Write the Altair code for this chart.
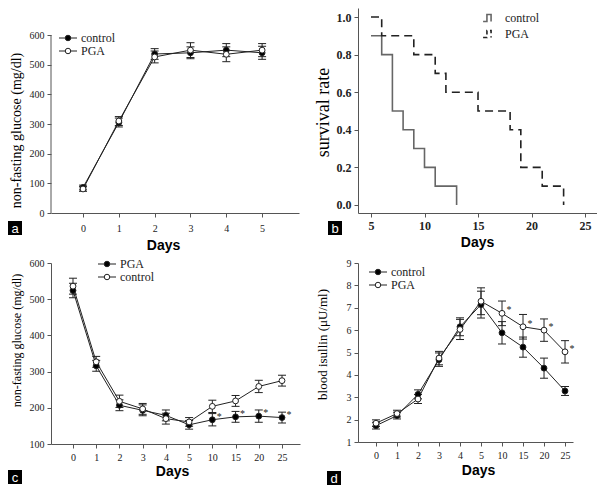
import altair as alt
import pandas as pd

SERIF = "Liberation Serif"
SANS = "Liberation Sans"
INK = "#222222"
AXC = "#555555"

# ---------------- data ----------------
# panel a: glucose after STZ
a_days = [0, 1, 2, 3, 4, 5]
a_control = [86, 305, 536, 540, 549, 540]
a_control_err = [8, 15, 18, 20, 22, 22]
a_pga = [81, 310, 526, 549, 535, 549]
a_pga_err = [8, 15, 20, 25, 25, 22]
a_yticks = [0, 100, 200, 300, 400, 500, 600]

# panel b: survival (Kaplan-Meier steps)
b_control_days = [5, 6, 7, 8, 9, 10, 11, 13]
b_control_surv = [0.9, 0.8, 0.5, 0.4, 0.3, 0.2, 0.1, 0.0]
b_pga_days = [5, 6, 9, 11, 12, 15, 18, 19, 21, 23]
b_pga_surv = [1.0, 0.9, 0.8, 0.7, 0.6, 0.5, 0.4, 0.2, 0.1, 0.0]
b_xticks = [5, 10, 15, 20, 25]
b_yticks = [0, 0.2, 0.4, 0.6, 0.8, 1.0]

# panels c and d share day categories
cd_days = ["0", "1", "2", "3", "4", "5", "10", "15", "20", "25"]
cd_sig = [False, False, False, False, False, False, True, True, True, True]

c_pga = [524, 316, 207, 193, 179, 153, 167, 175, 177, 173]
c_pga_err = [20, 15, 15, 15, 15, 12, 17, 15, 17, 15]
c_control = [536, 327, 218, 197, 170, 161, 204, 219, 259, 275]
c_control_err = [22, 15, 17, 15, 15, 12, 17, 15, 17, 15]
c_yticks = [100, 200, 300, 400, 500, 600]

d_control = [1.73, 2.18, 3.13, 4.68, 6.15, 7.14, 5.88, 5.24, 4.30, 3.28]
d_control_err = [0.15, 0.15, 0.2, 0.3, 0.4, 0.6, 0.5, 0.45, 0.45, 0.2]
d_pga = [1.84, 2.27, 2.92, 4.75, 6.03, 7.29, 6.75, 6.15, 6.0, 5.03]
d_pga_err = [0.15, 0.15, 0.2, 0.3, 0.45, 0.6, 0.55, 0.55, 0.5, 0.5]
d_yticks = [1, 2, 3, 4, 5, 6, 7, 8, 9]


def make_df(xs, series):
    # first series is drawn with filled markers, second with open markers
    rows = []
    for k, (name, vals, errs, sigs) in enumerate(series):
        fc = "black" if k == 0 else "white"
        for x, v, e, s in zip(xs, vals, errs, sigs):
            rows.append(dict(x=x, y=v, lo=v - e, hi=v + e, group=name, sig=s, fc=fc))
    return pd.DataFrame(rows)


def one():
    return alt.Chart(pd.DataFrame({"k": [0]}))


def panel_label(letter, x, y):
    box = one().mark_rect(color="black").encode(
        x=alt.value(x), x2=alt.value(x + 14), y=alt.value(y), y2=alt.value(y + 14))
    txt = one().mark_text(text=letter, color="white", font=SANS, fontSize=13,
                          align="center", baseline="middle").encode(
        x=alt.value(x + 7), y=alt.value(y + 7.5))
    return [box, txt]


def line_legend(names, x0, y0, step):
    layers = []
    for i, name in enumerate(names):
        y = y0 + i * step
        fill = "black" if i == 0 else "white"
        layers.append(one().mark_rule(color=INK, strokeWidth=1).encode(
            x=alt.value(x0), x2=alt.value(x0 + 18), y=alt.value(y)))
        layers.append(one().mark_point(filled=True, fill=fill, stroke=INK, strokeWidth=1,
                                       size=30, opacity=1).encode(
            x=alt.value(x0 + 9), y=alt.value(y)))
        layers.append(one().mark_text(text=name, font=SERIF, fontSize=12, color=INK,
                                      align="left", baseline="middle").encode(
            x=alt.value(x0 + 22), y=alt.value(y)))
    return layers


def xaxis_days(values, label_expr, title_x, title_pad, label_size=10, label_pad=4,
               weight="normal"):
    kw = dict(values=values, title="Days", titleFont=SANS, titleFontWeight="bold",
              titleFontSize=14, titleColor="black", titleX=title_x, titlePadding=title_pad,
              labelFont=SERIF, labelFontSize=label_size, labelPadding=label_pad,
              labelFontWeight=weight,
              labelColor=INK, tickSize=4, domainColor=AXC, tickColor=AXC, grid=False,
              labelFlush=False, labelOverlap=False)
    if label_expr:
        kw["labelExpr"] = label_expr
    return alt.Axis(**kw)


def yaxis_title(title, values, size, tx, ty, label_size=10, fmt=None, domain=True,
                weight="normal"):
    kw = dict(values=values, title=title, titleFont=SERIF, titleFontWeight="normal",
              titleFontSize=size, titleColor="black", titleX=tx, titleY=ty,
              titleAngle=270, titleAlign="center", titleBaseline="middle",
              labelFont=SERIF, labelFontSize=label_size, labelColor=INK, labelPadding=3,
              labelFontWeight=weight,
              tickSize=4, domain=domain, domainColor=AXC, tickColor=AXC, grid=False,
              labelOverlap=False)
    if fmt:
        kw["format"] = fmt
    return alt.Axis(**kw)


def series_panel(df, order, xdom, ydom, xaxis, yaxis, w, h, legend_xy, label_xy, letter,
                 yline=None):
    xs = alt.Scale(domain=xdom, nice=False, zero=False)
    ys = alt.Scale(domain=ydom, nice=False, zero=False)
    base = alt.Chart(df)

    def X(f="x"):
        return alt.X(f + ":Q", scale=xs, axis=xaxis)

    def Y(f="y"):
        return alt.Y(f + ":Q", scale=ys, axis=yaxis)

    layers = []
    if yline is not None:
        layers.append(one().mark_rule(color=AXC, strokeWidth=1).encode(
            x=alt.value(0), y=alt.Y(datum=yline[0], scale=ys, axis=yaxis),
            y2=alt.Y2(datum=yline[1])))
    line = base.mark_line(color=INK, strokeWidth=1).encode(x=X(), y=Y(), detail="group:N")
    err = base.mark_rule(color=INK, strokeWidth=1).encode(x=X(), y=Y("lo"), y2=alt.Y2("hi"))
    caplo = base.mark_rule(color=INK, strokeWidth=1, xOffset=-4, x2Offset=4).encode(
        x=X(), x2=alt.X2("x"), y=Y("lo"))
    caphi = base.mark_rule(color=INK, strokeWidth=1, xOffset=-4, x2Offset=4).encode(
        x=X(), x2=alt.X2("x"), y=Y("hi"))
    pts = base.mark_point(filled=True, size=34, stroke=INK, strokeWidth=1, opacity=1).encode(
        x=X(), y=Y(), fill=alt.Fill("fc:N", scale=None, legend=None))
    star = base.transform_filter("datum.sig").mark_text(
        text="*", dx=7, dy=-3, fontSize=10, font=SERIF, color=INK).encode(x=X(), y=Y())
    layers += [line, err, caplo, caphi, pts, star]
    layers += line_legend(order, legend_xy[0], legend_xy[1], 13)
    layers += panel_label(letter, label_xy[0], label_xy[1])
    return alt.layer(*layers).properties(width=w, height=h)


# ---------------- panel a ----------------
# plot area is extended upward so that its top lines up with panel b;
# the y axis line is drawn only over 0..600 like the reference.
A_H = 205
a_top = 600 * A_H / 178.0
df_a = make_df(a_days, [("control", a_control, a_control_err, [False] * 6),
                        ("PGA", a_pga, a_pga_err, [False] * 6)])
chart_a = series_panel(
    df_a, ["control", "PGA"], [-0.894, 6.03], [0, a_top],
    xaxis_days(a_days, None, 112, 5, label_pad=6),
    yaxis_title("non-fasting glucose (mg/dl)", a_yticks, 14, -35, 122, domain=False),
    248, A_H, (8, 30), (-43, 213), "a", yline=(0, 600))

# ---------------- panel c ----------------
idx = list(range(len(cd_days)))
lab_expr = "[" + ",".join("'%s'" % d for d in cd_days) + "][datum.value]"
df_c = make_df(idx, [("PGA", c_pga, c_pga_err, cd_sig),
                     ("control", c_control, c_control_err, [False] * 10)])
chart_c = series_panel(
    df_c, ["PGA", "control"], [-0.947, 9.775], [100, 600],
    xaxis_days(idx, lab_expr, 121, 2),
    yaxis_title("non-fasting glucose (mg/dl)", c_yticks, 12, -35, 77),
    249, 181, (47, 1), (-43, 207), "c")

# ---------------- panel d ----------------
df_d = make_df(idx, [("control", d_control, d_control_err, [False] * 10),
                     ("PGA", d_pga, d_pga_err, cd_sig)])
chart_d = series_panel(
    df_d, ["control", "PGA"], [-0.857, 9.38], [1, 9],
    xaxis_days(idx, lab_expr, 120, 3.5),
    yaxis_title("blood isullin (\u03bcU/ml)", d_yticks, 13, -36, 81),
    215, 179, (11, 9), (-31, 208), "d")

# ---------------- panel b ----------------
df_b = pd.concat([
    pd.DataFrame({"day": b_control_days, "surv": b_control_surv, "group": "control"}),
    pd.DataFrame({"day": b_pga_days, "surv": b_pga_surv, "group": "PGA"}),
])
steps = alt.Chart(df_b).mark_line(interpolate="step-after", strokeWidth=1.6).encode(
    x=alt.X("day:Q", scale=alt.Scale(domain=[3.785, 26.12], nice=False, zero=False),
            axis=xaxis_days(b_xticks, None, 119, 4.5, label_size=12, label_pad=3,
                            weight="bold")),
    y=alt.Y("surv:Q", scale=alt.Scale(domain=[-0.043, 1.048], nice=False, zero=False),
            axis=yaxis_title("survival rate", b_yticks, 18, -35, 104,
                             label_size=12, fmt=".1f", weight="bold")),
    color=alt.Color("group:N", scale=alt.Scale(domain=["control", "PGA"], range=["#666666", "#222222"]),
                    legend=None),
    strokeDash=alt.StrokeDash("group:N", scale=alt.Scale(domain=["control", "PGA"], range=[[1, 0], [8, 5]]),
                              legend=None),
    detail="group:N",
)
step_path = "M-1,0.6L-0.35,0.6L-0.35,-0.6L0.35,-0.6L0.35,0.6"
b_layers = [steps]
for i, (name, dash, col) in enumerate([("control", [1, 0], "#666666"), ("PGA", [4, 3], "#222222")]):
    yy = 10 + i * 16
    b_layers.append(one().mark_point(shape=step_path, size=140, filled=False, stroke=col,
                                     strokeWidth=1.6, strokeDash=dash, opacity=1).encode(
        x=alt.value(131), y=alt.value(yy)))
    b_layers.append(one().mark_text(text=name, font=SERIF, fontSize=12, color=INK,
                                    align="left", baseline="middle").encode(
        x=alt.value(147), y=alt.value(yy)))
b_layers += panel_label("b", -30, 213)
chart_b = alt.layer(*b_layers).properties(width=239, height=205)

# ---------------- layout ----------------
chart = alt.concat(chart_a, chart_b, chart_c, chart_d, columns=2,
                   spacing={"row": 50, "column": 58}, bounds="flush", align="each").properties(
    padding=0).configure_view(stroke=None).configure_axis(
    grid=False, labelFont=SERIF).configure_text(font=SERIF)

chart.save("out.html", embed_options={"renderer": "svg", "actions": False})
